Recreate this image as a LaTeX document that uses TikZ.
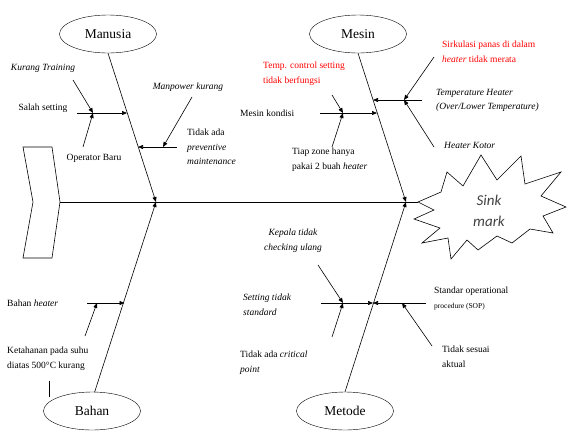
\documentclass[tikz,border=0pt]{standalone}
\usepackage{fontspec}
\setmainfont{Liberation Serif}
\newfontfamily\sinkfont{Carlito}
\usetikzlibrary{arrows.meta,shapes.geometric}

\begin{document}
\begin{tikzpicture}[
    x=1pt, y=-1pt,
    cat/.style={draw, ellipse, minimum width=97pt, minimum height=38pt, inner sep=0pt, font=\fontsize{13.5}{16}\selectfont},
    lbl/.style={align=left, inner sep=0pt, font=\fontsize{9.5}{14.5}\selectfont},
    warn/.style={lbl, text=red},
    bone/.style={line width=0.6pt},
    arrow/.style={-{Triangle[length=5pt,width=4pt]}, line width=0.6pt}
  ]
  \useasboundingbox (0,0) rectangle (568,432);

  % tail, spine and head
  \draw[bone] (23,147) -- (52,147) -- (60,202) -- (52,258)
    -- (23,258) -- (33,202) -- cycle;
  \coordinate (tail) at (60,202);
  \coordinate (tip) at (418,202);
  \draw[bone] (418,202) -- (441,192) -- (447,172) -- (463,186) -- (481,155) -- (497,180)
    -- (521,156) -- (525,184) -- (561,172) -- (541,196) -- (566,207) -- (543,216)
    -- (553,233) -- (530,229) -- (512,243) -- (497,236) -- (478,250) -- (467,240)
    -- (451,259) -- (448,238) -- (422,243) -- (440,228) -- (414,219) -- (434,210) -- cycle;
  \node[font=\sinkfont\itshape\fontsize{15}{21}\selectfont, align=center, inner sep=0pt, text=black!75] (sink) at (489,211) {Sink\\mark};
  \draw[bone] (tail) -- (tip);

  % categories
  \node[cat] (manusia) at (108,34) {Manusia};
  \node[cat] (mesin) at (358,34) {Mesin};
  \node[cat] (bahan) at (92,411) {Bahan};
  \node[cat] (metode) at (345,411) {Metode};
  \coordinate (jm) at (156,202);
  \coordinate (jn) at (406,202);
  \draw[arrow] (manusia.south) -- (jm);
  \draw[arrow] (bahan.82) -- (jm);
  \draw[arrow] (mesin.south) -- (jn);
  \draw[arrow] (metode.north) -- (jn);

  % Manusia
  \node[lbl, font=\fontsize{9.5}{14.5}\selectfont\itshape] (kurang) at (43,68) {Kurang Training};
  \node[lbl] (salah) at (43,108) {Salah setting};
  \node[lbl] (operator) at (94,158) {Operator Baru};
  \node[lbl, font=\fontsize{9.5}{14.5}\selectfont\itshape] (manpower) at (188,87) {Manpower kurang};
  \node[lbl, anchor=north west] (preventive) at (187,129) {Tidak ada\\\textit{preventive}\\\textit{maintenance}};
  \coordinate (m1) at (127,113);
  \coordinate (m2) at (138,147);
  \coordinate (m1a) at (77,113);
  \coordinate (m1b) at (93,113);
  \coordinate (m2a) at (177,147);
  \coordinate (m2b) at (163,147);
  \coordinate (kurangend) at (73,80);
  \coordinate (operatorend) at (83,147);
  \coordinate (manpowerend) at (192,97);
  \draw[arrow] (m1a) -- (m1);
  \draw[arrow] (kurangend) -- (m1b);
  \draw[arrow] (operatorend) -- (m1b);
  \draw[arrow] (m2a) -- (m2);
  \draw[arrow] (manpowerend) -- (m2b);

  % Mesin
  \node[warn, anchor=north west] (tempcontrol) at (263,62) {Temp. control setting\\tidak berfungsi};
  \node[lbl, anchor=west] (kondisi) at (240,113) {Mesin kondisi};
  \node[lbl, anchor=north west] (zone) at (292,148) {Tiap zone hanya\\pakai 2 buah \textit{heater}};
  \node[warn, anchor=north west] (sirkulasi) at (442,41) {Sirkulasi panas di dalam\\\textit{heater} tidak merata};
  \node[lbl, anchor=north west, font=\fontsize{9.5}{14.5}\selectfont\itshape] (temperature) at (436,89) {Temperature Heater\\(Over/Lower Temperature)};
  \node[lbl, anchor=west, font=\fontsize{9.5}{14.5}\selectfont\itshape] (kotor) at (444,145) {Heater Kotor};
  \coordinate (n1) at (377,113);
  \coordinate (n2) at (373,100);
  \coordinate (n1a) at (320,113);
  \coordinate (n1b) at (343,113);
  \coordinate (n2a) at (422,100);
  \coordinate (n2b) at (404,100);
  \coordinate (tempend) at (332,95);
  \coordinate (zoneend) at (332,147);
  \coordinate (sirkend) at (434,57);
  \coordinate (kotorend) at (434,147);
  \draw[arrow] (n1a) -- (n1);
  \draw[arrow] (tempend) -- (n1b);
  \draw[arrow] (zoneend) -- (n1b);
  \draw[arrow] (n2a) -- (n2);
  \draw[arrow] (sirkend) -- (n2b);
  \draw[arrow] (kotorend) -- (n2b);

  % Bahan
  \node[lbl, anchor=west] (heater) at (7,303) {Bahan \textit{heater}};
  \node[lbl, anchor=north west] (ketahanan) at (7,347) {Ketahanan pada suhu\\diatas 500°C kurang};
  \coordinate (b1) at (124.5,303);
  \coordinate (b1a) at (87,303);
  \coordinate (b1b) at (97,303);
  \coordinate (ketend) at (85,336);
  \draw[arrow] (b1a) -- (b1);
  \draw[arrow] (ketend) -- (b1b);
  \draw[line width=1pt] (49,381) -- (49,397);

  % Metode
  \node[lbl, align=center, anchor=north, font=\fontsize{9.5}{14.5}\selectfont\itshape] (kepala) at (293,229) {Kepala tidak\\checking ulang};
  \node[lbl, anchor=north west, font=\fontsize{9.5}{14.5}\selectfont\itshape] (standard) at (243,294) {Setting tidak\\standard};
  \node[lbl, anchor=north west] (critical) at (240,351) {Tidak ada \textit{critical}\\\textit{point}};
  \node[lbl, anchor=north west] (sop) at (434,287) {Standar operational\\{\fontsize{7.5}{9}\selectfont procedure (SOP)}};
  \node[lbl, anchor=north west] (sesuai) at (442,346) {Tidak sesuai\\aktual};
  \coordinate (t1) at (373,303);
  \coordinate (t1a) at (321,303);
  \coordinate (t1b) at (343,303);
  \coordinate (t2a) at (426,303);
  \coordinate (t2b) at (402,303);
  \coordinate (kepalaend) at (318,265);
  \coordinate (criticalend) at (332,337);
  \coordinate (sesuaiend) at (432,346);
  \draw[arrow] (t1a) -- (t1);
  \draw[arrow] (t2a) -- (t1);
  \draw[arrow] (kepalaend) -- (t1b);
  \draw[arrow] (criticalend) -- (t1b);
  \draw[arrow] (sesuaiend) -- (t2b);
\end{tikzpicture}
\end{document}
